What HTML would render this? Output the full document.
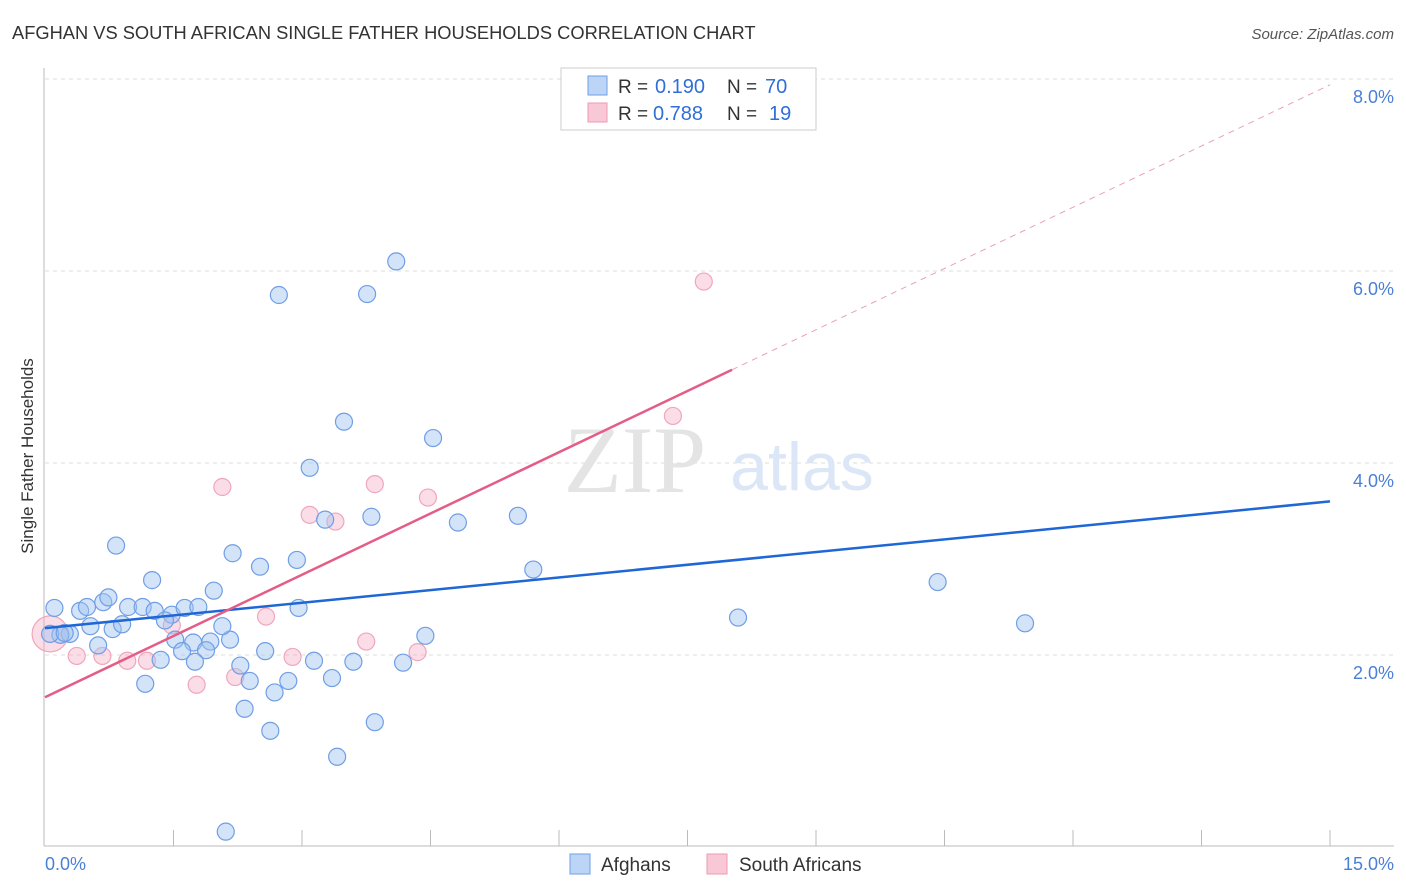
<!DOCTYPE html>
<html><head><meta charset="utf-8"><style>
body{margin:0;background:#fff;font-family:"Liberation Sans",sans-serif;}
svg{display:block}
</style></head><body>
<svg width="1406" height="892" id="c">
<text x="12" y="39" font-size="18.3" fill="#333">AFGHAN VS SOUTH AFRICAN SINGLE FATHER HOUSEHOLDS CORRELATION CHART</text>
<text x="1394" y="39" font-size="15" fill="#555" font-style="italic" text-anchor="end">Source: ZipAtlas.com</text>
<text x="33" y="456" font-size="17" fill="#333" text-anchor="middle" transform="rotate(-90 33 456)">Single Father Households</text>
<g id="grid"></g>
<text x="635" y="492" font-size="95" fill="#e4e4e4" text-anchor="middle" font-family="Liberation Serif,serif">ZIP</text>
<text x="802" y="490" font-size="68" fill="#dbe6f6" text-anchor="middle">atlas</text>
<line x1="44" y1="68" x2="44" y2="846" stroke="#bbb"/>
<line x1="44" y1="846" x2="1394" y2="846" stroke="#bbb"/>
<g id="ticks"></g>
<g id="pts"></g>
<g id="lines"></g>
<text x="45" y="870" font-size="18" fill="#4a7fd6">0.0%</text>
<text x="1394" y="870" font-size="18" fill="#4a7fd6" text-anchor="end">15.0%</text>
<g>
<rect x="561" y="68" width="255" height="62" fill="#fff" stroke="#ccc"/>
<rect x="588" y="76" width="19" height="19" fill="#bcd4f5" stroke="#6f9ee6"/>
<rect x="588" y="103" width="19" height="19" fill="#f9c8d6" stroke="#ee9ab3"/>
<text x="618" y="93" font-size="19" fill="#333">R =</text>
<text x="655" y="93" font-size="20" fill="#2f6fd6">0.190</text>
<text x="727" y="93" font-size="19" fill="#333">N =</text>
<text x="765" y="93" font-size="20" fill="#2f6fd6">70</text>
<text x="618" y="120" font-size="19" fill="#333">R =</text>
<text x="653" y="120" font-size="20" fill="#2f6fd6">0.788</text>
<text x="727" y="120" font-size="19" fill="#333">N =</text>
<text x="769" y="120" font-size="20" fill="#2f6fd6">19</text>
</g>
<g>
<rect x="570" y="854" width="20" height="20" fill="#bcd4f5" stroke="#6f9ee6"/>
<text x="601" y="871" font-size="19" fill="#333">Afghans</text>
<rect x="707" y="854" width="20" height="20" fill="#f9c8d6" stroke="#ee9ab3"/>
<text x="739" y="871" font-size="19" fill="#333">South Africans</text>
</g>
</svg>
<script>
const yTicks=[2,4,6,8];
const yTickLabels=["2.0%","4.0%","6.0%","8.0%"];
const afghanX=[0.11,0.41,0.49,0.68,0.74,0.29,0.18,0.53,0.62,0.79,0.90,0.97,1.14,1.28,1.48,1.63,1.79,1.40,1.52,1.73,1.60,1.93,1.88,2.16,2.07,2.28,2.39,2.33,2.63,2.57,2.68,2.84,2.96,3.14,3.35,3.60,3.41,3.85,4.18,4.44,1.97,2.19,2.51,2.94,3.27,0.83,1.25,3.81,4.82,5.52,5.70,3.09,3.49,4.53,2.73,3.76,4.10,8.09,10.42,11.44,2.11,1.17,1.35,1.75,0.06,0.23];
const afghanY=[2.49,2.46,2.50,2.55,2.60,2.22,2.21,2.30,2.10,2.27,2.32,2.50,2.50,2.46,2.42,2.49,2.50,2.36,2.16,2.13,2.04,2.14,2.05,2.16,2.30,1.89,1.73,1.44,1.21,2.04,1.61,1.73,2.49,1.94,1.76,1.93,0.94,1.30,1.92,2.20,2.67,3.06,2.92,2.99,3.41,3.14,2.78,3.44,3.38,3.45,2.89,3.95,4.43,4.26,5.75,5.76,6.10,2.39,2.76,2.33,0.16,1.70,1.95,1.93,2.22,2.23];
const saX=[0.06,0.37,0.67,0.96,1.19,1.77,2.22,2.07,2.58,2.89,3.09,3.39,3.85,3.75,4.35,4.47,7.33,7.69,1.48];
const saY=[2.22,1.99,1.99,1.94,1.94,1.69,1.77,3.75,2.40,1.98,3.46,3.39,3.78,2.14,2.03,3.64,4.49,5.89,2.31];
const afghanTrend=[2.28,3.60];
const saTrend=[1.56,7.94];
const saSolidEnd=8.02;
const X=v=>45+v*1285/15, Y=v=>847-v*96;
const NS="http://www.w3.org/2000/svg";
function mk(t,a,p){const e=document.createElementNS(NS,t);for(const k in a)e.setAttribute(k,a[k]);p.appendChild(e);return e;}
const grid=document.getElementById('grid');
yTicks.forEach((v,i)=>{
 const l=mk('line',{x1:45,x2:1394,y1:Y(v),y2:Y(v),stroke:'#ddd','stroke-dasharray':'4,4'},grid);
 
 
 const t=mk('text',{x:1394,y:Y(v)+24,'font-size':18,fill:'#4a7fd6','text-anchor':'end'},grid);
 t.textContent=yTickLabels[i];
 
 
});
const tk=document.getElementById('ticks');
for(let i=1;i<=10;i++){
 const l=mk('line',{x1:X(i*1.5),x2:X(i*1.5),y1:830,y2:846,stroke:'#bbb'},tk);
 
 
}
const pts=document.getElementById('pts');
saX.forEach((x,i)=>{
 const c=mk('circle',{cx:X(x),cy:Y(saY[i]),r:i===0?18:8.5,fill:'rgba(246,170,195,0.4)',stroke:'#f0a6bd','stroke-width':1.2},pts);
 
 
});
afghanX.forEach((x,i)=>{
 const c=mk('circle',{cx:X(x),cy:Y(afghanY[i]),r:8.5,fill:'rgba(160,195,240,0.45)',stroke:'#6f9ee6','stroke-width':1.2},pts);
 
 
});
const ln=document.getElementById('lines');
const sa=x=>saTrend[0]+(saTrend[1]-saTrend[0])*x/15;
let a=mk('line',{x1:X(0),y1:Y(afghanTrend[0]),x2:X(15),y2:Y(afghanTrend[1]),stroke:'#1f66d6','stroke-width':2.5},ln);


let b=mk('line',{x1:X(0),y1:Y(sa(0)),x2:X(saSolidEnd),y2:Y(sa(saSolidEnd)),stroke:'#e35d87','stroke-width':2.5},ln);


let d=mk('line',{x1:X(saSolidEnd),y1:Y(sa(saSolidEnd)),x2:X(15),y2:Y(sa(15)),stroke:'#eaa0b8','stroke-width':1,'stroke-dasharray':'6,5'},ln);


</script>
</body></html>
